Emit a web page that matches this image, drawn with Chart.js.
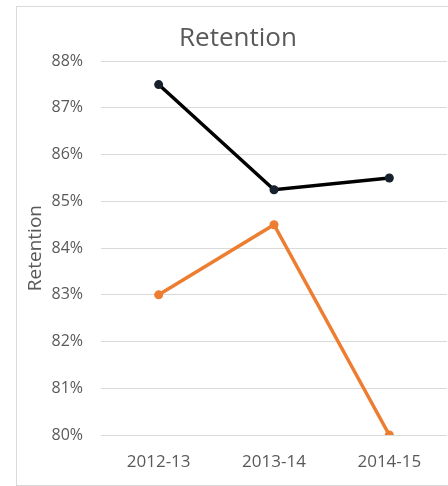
<!DOCTYPE html>
<html>
<head>
<meta charset="utf-8">
<script src="https://cdn.jsdelivr.net/npm/chart.js@4"></script>
<style>
  html, body { margin: 0; padding: 0; background: #fff; overflow: hidden; }
  #frame {
    position: absolute; left: 16px; top: 6px;
    width: 442px; height: 478px;
    border: 1px solid #d9d9d9;
  }
</style>
</head>
<body>
<div id="frame"><canvas id="c" width="442" height="478"></canvas></div>
<script>
const years = ['2012-13', '2013-14', '2014-15'];
const seriesBlack = [87.5, 85.25, 85.5];
const seriesOrange = [83, 84.5, 80];
const yMin = 80, yMax = 88, yStep = 1;

const txt = '#595959';
const grid = '#d9d9d9';
const fontFam = '"Open Sans", "Noto Sans", sans-serif';

new Chart(document.getElementById('c'), {
  type: 'line',
  data: {
    labels: years,
    datasets: [{
      label: 'A',
      data: seriesBlack,
      borderColor: '#000',
      backgroundColor: '#17212e',
      borderWidth: 3.5,
      pointRadius: 4.5,
      pointBorderWidth: 0,
      tension: 0
    }, {
      label: 'B',
      data: seriesOrange,
      borderColor: '#ed7d31',
      backgroundColor: '#ed7d31',
      borderWidth: 3.5,
      pointRadius: 4.5,
      pointBorderWidth: 0,
      tension: 0
    }]
  },
  options: {
    responsive: false,
    animation: false,
    layout: { padding: 0 },
    plugins: {
      legend: { display: false },
      tooltip: { enabled: false },
      title: {
        display: true,
        text: 'Retention',
        color: txt,
        font: { family: fontFam, size: 26, weight: 'normal' },
        padding: { top: 16, bottom: 7 }
      }
    },
    scales: {
      x: {
        offset: true,
        grid: { display: false, drawTicks: false },
        border: { display: false },
        ticks: { color: txt, font: { family: fontFam, size: 17 }, padding: 17 },
        afterFit: function(s) { s.height = 50; }
      },
      y: {
        min: yMin,
        max: yMax,
        grid: { color: grid, lineWidth: 1, drawTicks: false },
        border: { display: false },
        ticks: {
          stepSize: yStep,
          color: txt,
          font: { family: fontFam, size: 16 },
          padding: 18,
          callback: function(v) { return v + '%'; }
        },
        title: {
          display: true,
          text: 'Retention',
          color: txt,
          font: { family: fontFam, size: 19 },
          padding: { top: 7, bottom: 0 }
        },
        afterFit: function(s) { s.width = 84; }
      },
      // empty right axis, only keeps the plot off the right edge
      yRight: {
        position: 'right',
        grid: { display: false, drawTicks: false },
        border: { display: false },
        ticks: { display: false },
        afterFit: function(s) { s.width = 12; }
      }
    }
  }
});
</script>
</body>
</html>
